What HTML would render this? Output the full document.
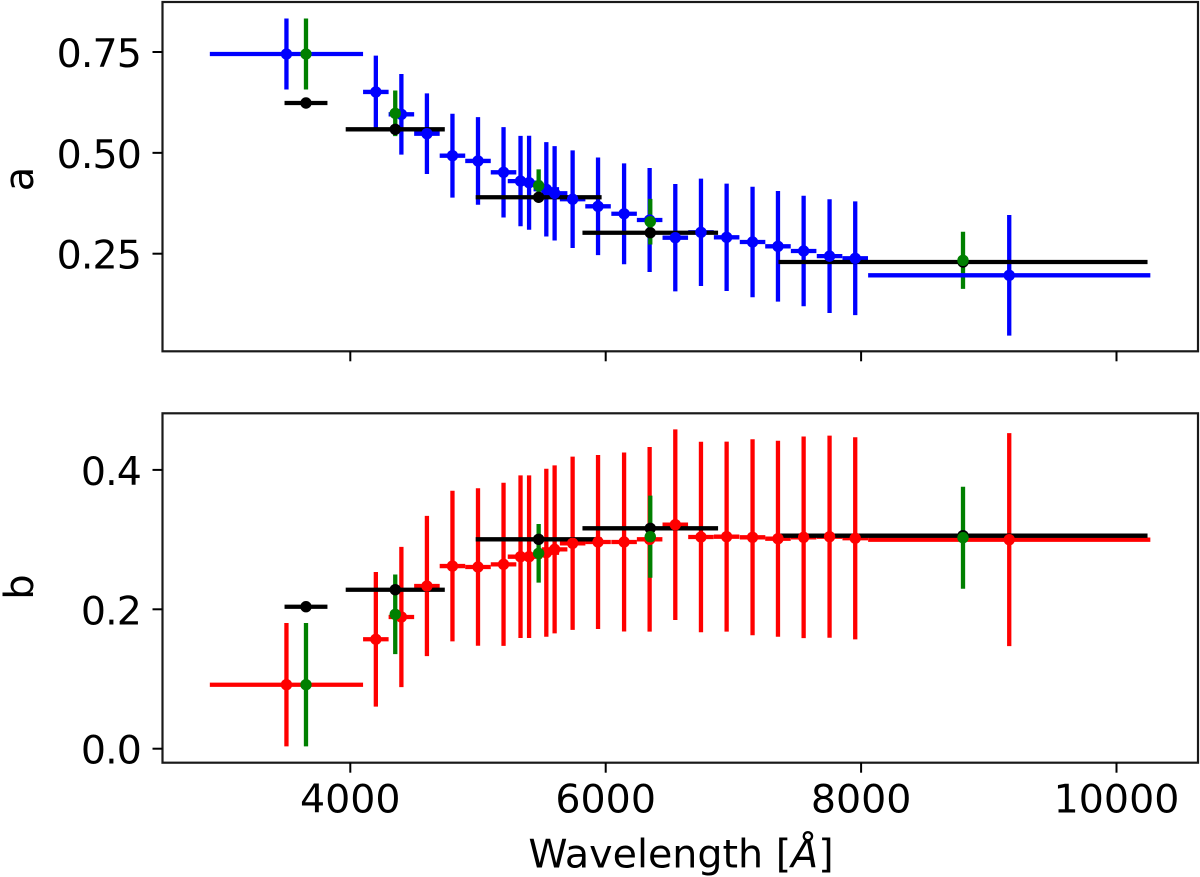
<!DOCTYPE html>
<html>
<head>
<meta charset="utf-8">
<title>Wavelength dependence of a and b</title>
<style>
html,body{margin:0;padding:0;background:#fff;}
svg{display:block;filter:blur(0.35px);}
text{font-family:"DejaVu Sans",sans-serif;fill:#000;}
</style>
</head>
<body>
<svg id="chart" xmlns="http://www.w3.org/2000/svg" width="1200" height="877" viewBox="0 0 1200 877">
<rect x="0" y="0" width="1200" height="877" fill="#fff"/>
<g id="panelA"></g>
<g id="panelB"></g>
<text transform="translate(33,179) rotate(-90)" font-size="40" text-anchor="middle">a</text>
<text transform="translate(33,587) rotate(-90)" font-size="40" text-anchor="middle">b</text>
<text x="681" y="867.4" font-size="39.6" text-anchor="middle">Wavelength [<tspan font-style="italic">Å</tspan>]</text>
</svg>
<script>
// Wavelengths and half-widths (Angstrom)
const wideWave = [3500,4200,4400,4600,4800,5000,5200,5333,5400,5535,5600,5741,5940,6144,6344,6545,6746,6947,7150,7349,7550,7753,7954,9160];
const wideWaveErr = [600,100,100,100,100,100,100,100,100,100,100,100,100,100,100,100,100,100,100,100,100,100,100,1105];
const broadWave = [3653,4352,5475,6349,8798];
const greenWaveErr = [0,0,0,0,0];
const blackWaveErr = [168,388,493,531,1445];

// Parameter a
const aBlue = [0.745,0.651,0.5955,0.5475,0.493,0.48,0.4518,0.43,0.426,0.4097,0.3997,0.385,0.3675,0.349,0.3335,0.2897,0.303,0.2906,0.279,0.2683,0.2567,0.244,0.2386,0.1964];
const aBlueErr = [0.088,0.09,0.1,0.1,0.104,0.1087,0.112,0.112,0.1165,0.117,0.117,0.121,0.121,0.125,0.129,0.133,0.133,0.133,0.137,0.137,0.137,0.141,0.141,0.1495];
const aGreen = [0.745,0.598,0.4186,0.3293,0.2336];
const aGreenErr = [0.088,0.0565,0.0405,0.0566,0.0707];
const aBlack = [0.6236,0.5584,0.3899,0.302,0.2294];

// Parameter b
const bRed = [0.0918,0.157,0.189,0.2334,0.262,0.2607,0.2645,0.2755,0.2755,0.2812,0.286,0.2947,0.2966,0.2966,0.3004,0.3214,0.3037,0.3042,0.3033,0.3013,0.3033,0.3042,0.3019,0.2999];
const bRedErr = [0.0885,0.0966,0.1006,0.1006,0.108,0.113,0.117,0.1167,0.1167,0.1205,0.1205,0.1243,0.1248,0.1284,0.1324,0.1368,0.1366,0.1363,0.1406,0.1406,0.1446,0.145,0.145,0.1528];
const bGreen = [0.0918,0.1928,0.2803,0.3042,0.3027];
const bGreenErr = [0.0885,0.0571,0.042,0.0589,0.0732];
const bBlack = [0.2037,0.2281,0.3004,0.3162,0.3056];

// Ticks
const xTicks = [4000,6000,8000,10000];
const xTickLabels = ["4000","6000","8000","10000"];
const aTicks = [0.25,0.5,0.75];
const aTickLabels = ["0.25","0.50","0.75"];
const bTicks = [0,0.2,0.4];
const bTickLabels = ["0.0","0.2","0.4"];

const NS = "http://www.w3.org/2000/svg";
const xScale = function(w){ return 350.3 + (w - 4000) * 0.1277; };
const yScaleA = function(v){ return 52 + (0.75 - v) * 403.4; };
const yScaleB = function(v){ return 748.7 - v * 697; };

function line(parent, x1, y1, x2, y2, color, width, name){
  const el = document.createElementNS(NS, "line");
  el.setAttribute("x1", x1);
  el.setAttribute("y1", y1);
  el.setAttribute("x2", x2);
  el.setAttribute("y2", y2);
  el.setAttribute("stroke", color);
  el.setAttribute("stroke-width", width);
  
  
  parent.appendChild(el);
}
function bars(parent, wave, waveErr, val, valErr, color, yScale, prefix){
  for (let i = 0; i < wave.length; i++){
    const px = xScale(wave[i]);
    const py = yScale(val[i]);
    if (waveErr[i] > 0) line(parent, xScale(wave[i] - waveErr[i]), py, xScale(wave[i] + waveErr[i]), py, color, 4.3, prefix + "-x-error");
    if (valErr && valErr[i] > 0) line(parent, px, yScale(val[i] + valErr[i]), px, yScale(val[i] - valErr[i]), color, 4.3, prefix + "-y-error");
  }
}
function markers(parent, wave, val, color, yScale, prefix, r){
  for (let i = 0; i < wave.length; i++){
    const c = document.createElementNS(NS, "circle");
    c.setAttribute("cx", xScale(wave[i]));
    c.setAttribute("cy", yScale(val[i]));
    c.setAttribute("r", r);
    c.setAttribute("fill", color);
    
    
    parent.appendChild(c);
  }
}
function label(parent, x, y, str, anchor, name, spacing){
  const t = document.createElementNS(NS, "text");
  t.setAttribute("x", x);
  t.setAttribute("y", y);
  t.setAttribute("font-size", "39.5");
  t.setAttribute("letter-spacing", spacing);
  t.setAttribute("text-anchor", anchor);
  
  
  t.textContent = str;
  parent.appendChild(t);
}
function panel(parent, top, bottom, yScale, yTicks, yLabels, showXLabels, cfg){
  const left = 162.5, right = 1198;
  const n = wideWave.length - 1;
  // The widest, reddest-wavelength main point sits above the green bars but below the black ones.
  bars(parent, wideWave.slice(0, n), wideWaveErr.slice(0, n), cfg.main.slice(0, n), cfg.mainErr.slice(0, n), cfg.color, yScale, cfg.mainName);
  bars(parent, broadWave, greenWaveErr, cfg.green, cfg.greenErr, "#008000", yScale, "green-series");
  bars(parent, wideWave.slice(n), wideWaveErr.slice(n), cfg.main.slice(n), cfg.mainErr.slice(n), cfg.color, yScale, cfg.mainName);
  bars(parent, broadWave, blackWaveErr, cfg.black, null, "#000", yScale, "black-series");
  markers(parent, wideWave, cfg.main, cfg.color, yScale, cfg.mainName, 5.7);
  markers(parent, broadWave, cfg.black, "#000", yScale, "black-series", 5.7);
  markers(parent, broadWave, cfg.green, "#008000", yScale, "green-series", 5.7);

  const f = document.createElementNS(NS, "rect");
  f.setAttribute("x", left);
  f.setAttribute("y", top);
  f.setAttribute("width", right - left);
  f.setAttribute("height", bottom - top);
  f.setAttribute("fill", "none");
  f.setAttribute("stroke", "#1a1a1a");
  f.setAttribute("stroke-width", "2.2");
  
  
  parent.appendChild(f);

  yTicks.forEach(function(v, i){
    const y = yScale(v);
    line(parent, left - 10, y, left, y, "#000", 2, "y-tick");
    label(parent, 141, y + 15, yLabels[i], "end", "y-tick-label", "-0.9");
  });
  xTicks.forEach(function(v, i){
    const x = xScale(v);
    line(parent, x, bottom, x, bottom + 10, "#000", 2, "x-tick");
    if (showXLabels) label(parent, x, bottom + 49.6, xTickLabels[i], "middle", "x-tick-label", "0");
  });
}
panel(document.getElementById("panelA"), 2, 351.3, yScaleA, aTicks, aTickLabels, false,
  {main:aBlue, mainErr:aBlueErr, color:"#0000ff", mainName:"blue-series", black:aBlack, green:aGreen, greenErr:aGreenErr});
panel(document.getElementById("panelB"), 413.3, 762.7, yScaleB, bTicks, bTickLabels, true,
  {main:bRed, mainErr:bRedErr, color:"#ff0000", mainName:"red-series", black:bBlack, green:bGreen, greenErr:bGreenErr});
</script>
</body>
</html>
